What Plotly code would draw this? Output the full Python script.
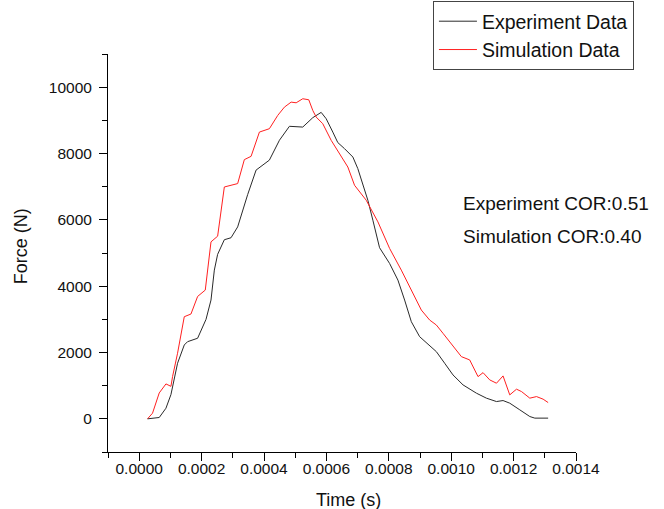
import plotly.graph_objects as go

# Time in microseconds (converted to seconds below), Force in N
exp_t_us = [26.7, 64.2, 85.7, 101.7, 122.9, 144.5, 155, 187.2, 214.2, 230.1, 240.8, 251.4,
            272.9, 294.3, 315.6, 347.6, 374.6, 417.2, 449.5, 481.5, 524.2, 556.3, 583.2,
            599.3, 620.5, 636.5, 658.1, 684.8, 700.7, 716.8, 732.9, 748.9, 770.4, 802.5,
            829.2, 850.7, 872.2, 898.8, 925.5, 952.4, 979.1, 1005.7, 1037.9, 1080.9,
            1112.9, 1145.1, 1166.2, 1187.7, 1219.9, 1252, 1268, 1310.7]
exp_force = [0, 40, 320, 730, 1676, 2227, 2326, 2430, 3000, 3581, 4484, 4960,
             5400, 5460, 5787, 6760, 7500, 7800, 8400, 8820, 8797, 9080, 9240,
             9048, 8646, 8330, 8146, 7894, 7544, 7042, 6590, 5989, 5160, 4685,
             4183, 3581, 2928, 2477, 2257, 2025, 1676, 1324, 1023, 773,
             623, 521, 551, 472, 271, 69, 21, 21]

sim_t_us = [26.7, 42.7, 64.2, 85.7, 101.7, 106.9, 122.9, 144.5, 165.9, 187.2, 211.8, 230.1,
            251.4, 272.9, 315.6, 337, 358.6, 385.3, 417.3, 444, 465.4, 487, 503.1, 524.2,
            543.5, 556.3, 567.3, 588.4, 615.4, 642, 668.7, 690.2, 727.7, 765.1, 802.6,
            840.1, 872.2, 904.3, 930.9, 952.4, 973.7, 995.1, 1005.7, 1032.7, 1059.3,
            1086, 1102.1, 1123.5, 1145.1, 1166.2, 1187.7, 1209.3, 1225.4, 1252, 1273.5,
            1294.6, 1310.7]
sim_force = [0, 170, 780, 1053, 980, 1273, 1977, 3079, 3160, 3690, 3882, 5336,
             5507, 6991, 7093, 7815, 7915, 8646, 8748, 9148, 9398, 9549, 9529, 9651,
             9620, 9299, 9098, 8898, 8396, 7995, 7593, 7042, 6590, 5938, 5137,
             4484, 3882, 3280, 2979, 2829, 2579, 2326, 2176, 1875, 1776,
             1273, 1393, 1174, 1074, 1294, 722, 894, 822, 623, 671,
             593, 491]

series_names = ["Experiment Data", "Simulation Data"]
cor_labels = ["Experiment COR:0.51", "Simulation COR:0.40"]
x_title = "Time (s)"
y_title = "Force (N)"

exp_t = [v * 1e-6 for v in exp_t_us]
sim_t = [v * 1e-6 for v in sim_t_us]

FONT = "Arial, Liberation Sans, sans-serif"

fig = go.Figure()
fig.add_trace(go.Scatter(x=exp_t, y=exp_force, mode="lines", name=series_names[0],
                         line=dict(color="#2a2a2a", width=1)))
fig.add_trace(go.Scatter(x=sim_t, y=sim_force, mode="lines", name=series_names[1],
                         line=dict(color="#ff2020", width=1)))

cor_y = [0.625, 0.542]
for txt, yy in zip(cor_labels, cor_y):
    fig.add_annotation(x=0.754, y=yy, xref="paper", yref="paper",
                       xanchor="left", yanchor="middle", text=txt, showarrow=False,
                       font=dict(family=FONT, size=19, color="#111111"))

# axis titles placed as text to match the reference positions
fig.add_annotation(x=0.513, y=-0.12, xref="paper", yref="paper", text=x_title,
                   showarrow=False, xanchor="center", yanchor="middle",
                   font=dict(family=FONT, size=18, color="#111111"))
fig.add_annotation(x=-0.186, y=0.517, xref="paper", yref="paper", text=y_title,
                   showarrow=False, xanchor="center", yanchor="middle", textangle=-90,
                   font=dict(family=FONT, size=18, color="#111111"))

fig.update_layout(
    width=664, height=509,
    margin=dict(l=108, r=88, t=54, b=57, autoexpand=False),
    paper_bgcolor="white", plot_bgcolor="white",
    font=dict(family=FONT, size=15.5, color="#111111"),
    showlegend=True,
    legend=dict(x=0.652, y=0.998, xref="container", yref="container",
                xanchor="left", yanchor="top",
                bordercolor="#444444", borderwidth=1, bgcolor="white",
                font=dict(family=FONT, size=19.5, color="#111111"),
                itemwidth=38, tracegroupgap=0),
    xaxis=dict(range=[-0.0001 - 1e-9, 0.0014 + 1e-9], tick0=0, dtick=0.0002,
               tickformat=".4f", showline=True, linecolor="black", linewidth=1,
               ticks="outside", ticklen=8, tickcolor="black", showgrid=False,
               zeroline=False, automargin=False, ticklabelstandoff=-6,
               minor=dict(ticks="outside", ticklen=5, dtick=0.0001, tick0=0,
                          tickcolor="black", showgrid=False)),
    yaxis=dict(range=[-1000, 11000], tick0=0, dtick=2000, tickformat="d",
               showline=True, linecolor="black", linewidth=1,
               ticks="outside", ticklen=8, tickcolor="black", showgrid=False,
               zeroline=False, automargin=False, ticklabelstandoff=4,
               minor=dict(ticks="outside", ticklen=5, dtick=1000, tick0=0,
                          tickcolor="black", showgrid=False)),
)

fig.write_html("out.html", config={"displayModeBar": False},
               post_script="document.body.style.margin='0px';")
